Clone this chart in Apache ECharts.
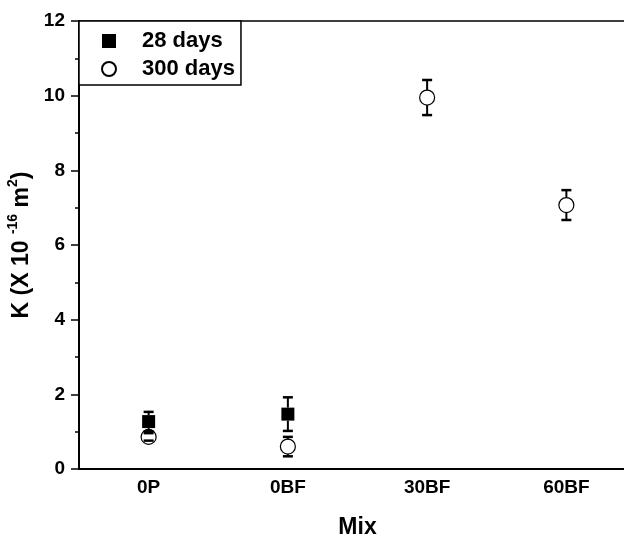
<!DOCTYPE html>
<html>
<head>
<meta charset="utf-8">
<script src="https://cdn.jsdelivr.net/npm/echarts@6/dist/echarts.min.js"></script>
<style>html,body{margin:0;padding:0;background:#fff;overflow:hidden}#c{width:624px;height:534px}</style>
</head>
<body>
<div id="c"></div>
<script>
var categories = ['0P', '0BF', '30BF', '60BF'];
var yTicks = [0, 2, 4, 6, 8, 10, 12];
// 28 days: [categoryIndex, K, error]
var days28 = [[0, 1.27, 0.26], [1, 1.47, 0.45]];
// 300 days: [categoryIndex, K, error]
var days300 = [[0, 0.86, 0.10], [1, 0.60, 0.26], [2, 9.95, 0.47], [3, 7.07, 0.40]];

var FONT = 'Arial, "Liberation Sans", sans-serif';

function errRender(halfSize) {
  return function (params, api) {
    var x = api.value(0), v = api.value(1), e = api.value(2);
    var c = api.coord([x, v]);
    var top = api.coord([x, v + e])[1];
    var bot = api.coord([x, v - e])[1];
    var cw = 5;
    var children = [];
    var st = {stroke: '#000', lineWidth: 2};
    if (top < c[1] - halfSize) children.push({type: 'line', shape: {x1: c[0], y1: top, x2: c[0], y2: c[1] - halfSize}, style: st});
    if (bot > c[1] + halfSize) children.push({type: 'line', shape: {x1: c[0], y1: bot, x2: c[0], y2: c[1] + halfSize}, style: st});
    var cs = {stroke: '#000', lineWidth: 2.5};
    children.push({type: 'line', shape: {x1: c[0] - cw, y1: top, x2: c[0] + cw, y2: top}, style: cs});
    children.push({type: 'line', shape: {x1: c[0] - cw, y1: bot, x2: c[0] + cw, y2: bot}, style: cs});
    return {type: 'group', children: children};
  };
}

var chart = echarts.init(document.getElementById('c'), null, {renderer: 'canvas'});
chart.setOption({
  animation: false,
  backgroundColor: '#fff',
  textStyle: {fontFamily: FONT},
  grid: {left: 79, right: -12, top: 21, bottom: 65, containLabel: false, outerBoundsMode: 'none'},
  legend: {
    orient: 'vertical', left: 79, top: 21,
    data: [{name: '28 days'}, {name: '300 days'}],
    backgroundColor: '#fff', borderColor: '#000', borderWidth: 1.5,
    padding: [8, 6, 4, 22], itemWidth: 14, itemHeight: 14, itemGap: 4,
    selectedMode: false,
    textStyle: {fontFamily: FONT, fontSize: 22, fontWeight: 'bold', color: '#000', lineHeight: 24, padding: [0, 0, 0, 21]}
  },
  xAxis: [{
    type: 'category', data: categories, position: 'bottom', boundaryGap: true,
    axisLine: {lineStyle: {color: '#000', width: 2}},
    axisTick: {show: false},
    axisLabel: {fontFamily: FONT, fontSize: 19, fontWeight: 'bold', color: '#000', margin: 9},
    name: 'Mix', nameLocation: 'middle', nameGap: 47,
    nameTextStyle: {fontFamily: FONT, fontSize: 23, fontWeight: 'bold', color: '#000'},
    splitLine: {show: false}
  }, {
    type: 'category', data: categories, position: 'top', boundaryGap: true,
    axisLine: {lineStyle: {color: '#000', width: 1.5}},
    axisTick: {show: false}, axisLabel: {show: false}, splitLine: {show: false}
  }],
  yAxis: {
    type: 'value', min: yTicks[0], max: yTicks[yTicks.length - 1], interval: 2,
    axisLine: {show: true, lineStyle: {color: '#000', width: 2}},
    axisTick: {show: true, inside: false, length: 8, lineStyle: {color: '#000', width: 1.5}},
    minorTick: {show: true, splitNumber: 2, length: 4, lineStyle: {color: '#000', width: 1.5}},
    axisLabel: {fontFamily: FONT, fontSize: 19, fontWeight: 'bold', color: '#000', margin: 14},
    splitLine: {show: false},
    name: '{a|K (X 10 }{s|-16}{a| m}{s|2}{a|)}',
    nameLocation: 'middle', nameGap: 39, nameRotate: 90,
    nameTextStyle: {
      rich: {
        a: {fontFamily: FONT, fontSize: 23, fontWeight: 'bold', color: '#000', lineHeight: 30},
        s: {fontFamily: FONT, fontSize: 14, fontWeight: 'bold', color: '#000', lineHeight: 16, verticalAlign: 'top'}
      }
    }
  },
  series: [{
    name: '28 days', type: 'scatter', symbol: 'rect', symbolSize: 13,
    itemStyle: {color: '#000', opacity: 1},
    data: days28.map(function (d) { return [d[0], d[1]]; }), z: 3
  }, {
    name: '300 days', type: 'scatter', symbol: 'circle', symbolSize: 15,
    itemStyle: {color: '#fff', borderColor: '#000', borderWidth: 1.2, opacity: 1},
    data: days300.map(function (d) { return [d[0], d[1]]; }), z: 3
  }, {
    name: 'err28', type: 'custom', renderItem: errRender(6.5), data: days28, z: 4,
    encode: {x: 0, y: 1}
  }, {
    name: 'err300', type: 'custom', renderItem: errRender(7.5), data: days300, z: 4,
    encode: {x: 0, y: 1}
  }]
});
</script>
</body>
</html>
